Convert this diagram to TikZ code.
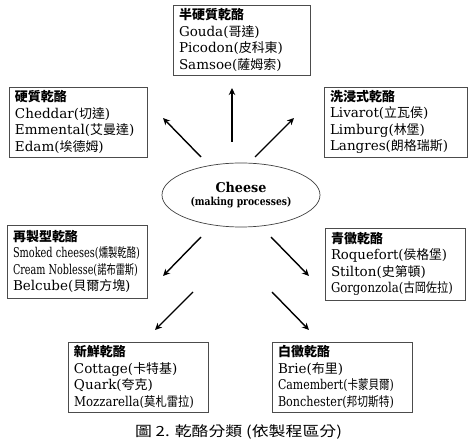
\documentclass[tikz,border=0pt]{standalone}
\usepackage{fontspec}
\setmainfont{DejaVu Serif}
\newfontfamily\cjk[Scale=0.96]{Noto Sans CJK TC}
\newfontfamily\cjkt{Noto Sans CJK TC}
\newcommand{\zh}[1]{{\cjk #1}}
\newcommand{\zt}[1]{{\cjkt\bfseries\fontsize{13}{16}\selectfont #1}}
\newsavebox\fitbox
\newcommand{\fitw}[2]{\sbox\fitbox{#2}\pgfmathsetmacro\fitf{min(1,#1/\wd\fitbox)}\scalebox{\fitf}[1]{\usebox\fitbox}}
\newcommand{\fitx}[2]{\sbox\fitbox{#2}\pgfmathsetmacro\fitf{#1/\wd\fitbox}\scalebox{\fitf}[1]{\usebox\fitbox}}
\usetikzlibrary{shapes.geometric,arrows.meta}
\begin{document}
\begin{tikzpicture}[x=1pt,y=-1pt,
  box/.style={draw=black!70, line width=0.7pt, minimum height=70pt, align=left,
    inner xsep=6pt, inner ysep=3pt, font=\fontsize{13.5}{16.5}\selectfont, anchor=center},
  arr/.style={-{Stealth[length=7pt,width=6.5pt]}, line width=1.4pt},
  oval/.style={ellipse, draw=black!75, line width=0.7pt, minimum width=158pt, minimum height=64pt, align=center, inner sep=0pt}]
\useasboundingbox (0,0) rectangle (472,446);

\node[box, text width=125pt] (semi) at (241.5,40)
  {\zt{半硬質乾酪}\\Gouda(\zh{哥達})\\Picodon(\zh{皮科東})\\Samsoe(\zh{薩姆索})};
\node[box, text width=126pt] (hard) at (78,122)
  {\zt{硬質乾酪}\\Cheddar(\zh{切達})\\\fitw{120pt}{Emmental(\zh{艾曼達})}\\Edam(\zh{埃德姆})};
\node[box, text width=131pt] (wash) at (395.5,122)
  {\zt{洗浸式乾酪}\\Livarot(\zh{立瓦侯})\\Limburg(\zh{林堡})\\\fitw{126pt}{Langres(\zh{朗格瑞斯})}};
\node[box, text width=128pt, minimum height=73pt] (proc) at (77,261.5)
  {\zt{再製型乾酪}\\\fitw{127pt}{Smoked cheeses(\zh{燻製乾酪})}\\\fitw{125pt}{Cream Noblesse(\zh{諾布雷斯})}\\\fitw{120pt}{Belcube(\zh{貝爾方塊})}};
\node[box, text width=128pt, minimum height=72pt] (blue) at (395,264)
  {\zt{青黴乾酪}\\\fitw{116pt}{Roquefort(\zh{侯格堡})}\\Stilton(\zh{史第頓})\\\fitw{122pt}{Gorgonzola(\zh{古岡佐拉})}};
\node[box, text width=128pt] (fresh) at (138,377)
  {\zt{新鮮乾酪}\\Cottage(\zh{卡特基})\\Quark(\zh{夸克})\\\fitw{120pt}{Mozzarella(\zh{莫札雷拉})}};
\node[box, text width=128pt] (white) at (342,377)
  {\zt{白黴乾酪}\\Brie(\zh{布里})\\\fitw{116pt}{Camembert(\zh{卡蒙貝爾})}\\\fitw{116pt}{Bonchester(\zh{邦切斯特})}};

\node[oval] (cheese) at (241,195)
  {{\fontsize{13.5}{15}\selectfont\bfseries \fitx{51pt}{Cheese}}\\[1pt]{\fontsize{11}{13}\selectfont\bfseries\fitx{101pt}{(making processes)}}};

\coordinate (t0) at (232,142); \coordinate (t1) at (232,88);
\coordinate (ul0) at (201,157); \coordinate (ul1) at (163,118);
\coordinate (ur0) at (255,157); \coordinate (ur1) at (294,118);
\coordinate (ml0) at (201,237); \coordinate (ml1) at (163,276);
\coordinate (mr0) at (271,237); \coordinate (mr1) at (309,276);
\coordinate (ll0) at (193,292); \coordinate (ll1) at (155,330);
\coordinate (lr0) at (272,292); \coordinate (lr1) at (309,330);
\draw[arr] (t0) -- (t1);
\draw[arr] (ul0) -- (ul1);
\draw[arr] (ur0) -- (ur1);
\draw[arr] (ml0) -- (ml1);
\draw[arr] (mr0) -- (mr1);
\draw[arr] (ll0) -- (ll1);
\draw[arr] (lr0) -- (lr1);

\node[font=\fontsize{14}{16}\selectfont] (cap) at (238.5,432) {\fitx{207pt}{\cjkt 圖 2. 乾酪分類 (依製程區分)}};
\end{tikzpicture}
\end{document}
